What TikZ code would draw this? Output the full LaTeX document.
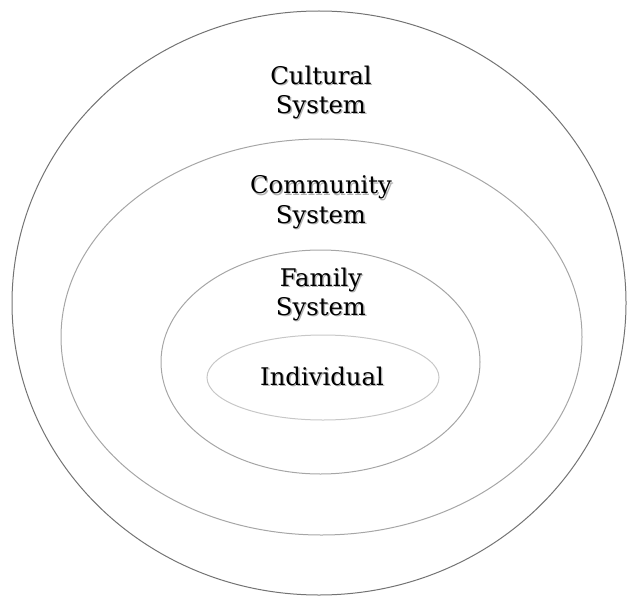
\documentclass[tikz,border=0pt]{standalone}
\usepackage{xcolor}
\usepackage{fontspec}
\setmainfont{DejaVu Serif}
\usepackage{tikz}
\usetikzlibrary{positioning}

% grey drop shadow behind a line of text
\newcommand{\shadowed}[1]{\leavevmode\rlap{\raisebox{-1.3pt}{\hspace{1.3pt}\textcolor{black!30}{#1}}}#1}

\tikzset{
    ring/.style={line width=1pt, draw=black!35},
    outerring/.style={line width=1pt, draw=black!55},
    sysname/.style={align=center, font=\fontsize{24.3}{29.5}\selectfont, inner sep=0pt}
}

\begin{document}
\begin{tikzpicture}[x=1pt, y=-1pt]
    \useasboundingbox (0,0) rectangle (628,596);

    % Nested systems
    \draw[outerring] (319,303) ellipse [x radius=307pt, y radius=292pt];
    \draw[ring] (321.5,337) ellipse [x radius=260.5pt, y radius=198pt];
    \draw[ring] (320.5,362) ellipse [x radius=159.5pt, y radius=112pt];
    \draw[ring, draw=black!22] (323,377.5) ellipse [x radius=116pt, y radius=42.5pt];

    % Labels
    \node[sysname] (cultural) at (321,93) {\shadowed{Cultural}\\\shadowed{System}};
    \node[sysname] (community) at (321,203) {\shadowed{Community}\\\shadowed{System}};
    \node[sysname] (family) at (321,295) {\shadowed{Family}\\\shadowed{System}};
    \node[sysname] (individual) at (322,377) {\shadowed{Individual}};
\end{tikzpicture}
\end{document}
